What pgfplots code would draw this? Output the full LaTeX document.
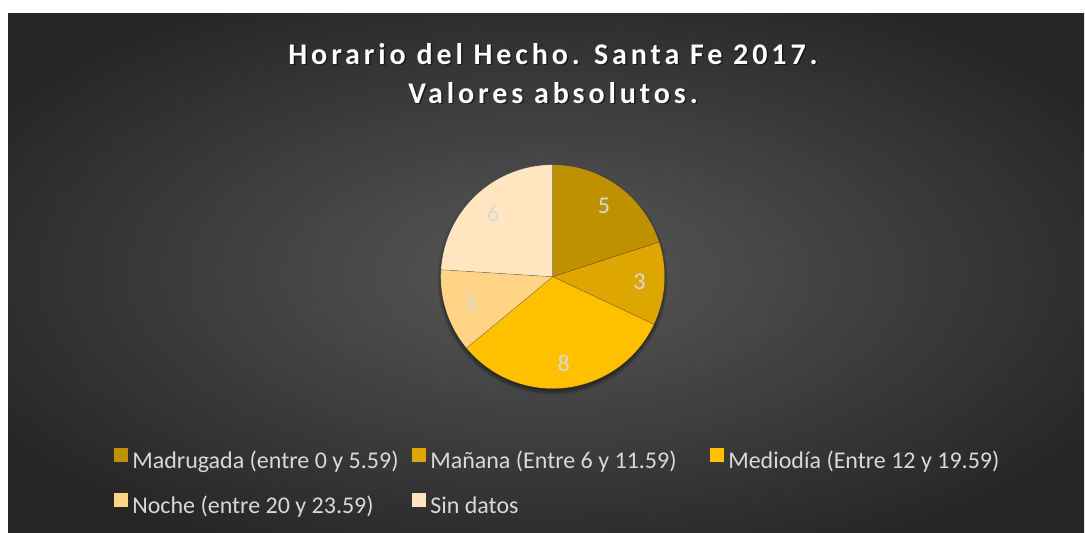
\documentclass[border=0pt]{standalone}
\usepackage{fontspec}
\setmainfont{Carlito}
\newfontfamily\titlefont[LetterSpace=13]{Carlito}
\usepackage{pgfplots}
\usepackage{pgfplotstable}
\pgfplotsset{compat=1.18}
\definecolor{cA}{HTML}{BF9000}
\definecolor{cB}{HTML}{DEA600}
\definecolor{cC}{HTML}{FFC000}
\definecolor{cD}{HTML}{FFD486}
\definecolor{cE}{HTML}{FFE5C0}
\definecolor{lbl}{HTML}{D9D9D9}
\definecolor{bgin}{HTML}{585858}
\definecolor{bgout}{HTML}{262626}
\pgfdeclareradialshading{bgshade}{\pgfpoint{0bp}{0bp}}{color(0bp)=(bgin); color(30bp)=(bgout); color(50bp)=(bgout)}

\pgfplotstableread{
value
5
3
8
3
6
}\piedata

\begin{document}
\begin{tikzpicture}[x=0.75pt,y=0.75pt]
\pgfplotstablegetelem{0}{value}\of\piedata \let\vA\pgfplotsretval
\pgfplotstablegetelem{1}{value}\of\piedata \let\vB\pgfplotsretval
\pgfplotstablegetelem{2}{value}\of\piedata \let\vC\pgfplotsretval
\pgfplotstablegetelem{3}{value}\of\piedata \let\vD\pgfplotsretval
\pgfplotstablegetelem{4}{value}\of\piedata \let\vE\pgfplotsretval
\pgfmathsetmacro\tot{\vA+\vB+\vC+\vD+\vE}
\pgfmathsetmacro\aA{90}
\pgfmathsetmacro\aB{\aA-360*\vA/\tot}
\pgfmathsetmacro\aC{\aB-360*\vB/\tot}
\pgfmathsetmacro\aD{\aC-360*\vC/\tot}
\pgfmathsetmacro\aE{\aD-360*\vD/\tot}
\pgfmathsetmacro\aF{\aE-360*\vE/\tot}
\def\cx{552.7}\def\cy{255.3}\def\R{112}\def\L{87}
\pgfmathsetmacro\xA{\cx+\L*cos((\aA+\aB)/2)}\pgfmathsetmacro\yA{\cy+\L*sin((\aA+\aB)/2)}
\pgfmathsetmacro\xB{\cx+\L*cos((\aB+\aC)/2)}\pgfmathsetmacro\yB{\cy+\L*sin((\aB+\aC)/2)}
\pgfmathsetmacro\xC{\cx+\L*cos((\aC+\aD)/2)}\pgfmathsetmacro\yC{\cy+\L*sin((\aC+\aD)/2)}
\pgfmathsetmacro\xD{\cx+\L*cos((\aD+\aE)/2)}\pgfmathsetmacro\yD{\cy+\L*sin((\aD+\aE)/2)}
\pgfmathsetmacro\xE{\cx+\L*cos((\aE+\aF)/2)}\pgfmathsetmacro\yE{\cy+\L*sin((\aE+\aF)/2)}
% background
\fill[white] (0,0) rectangle (1085,532);
\shade[shading=bgshade] (8,0) rectangle (1084,518);
% title
\begin{scope}[every node/.style={font=\titlefont\bfseries\fontsize{22.5pt}{27pt}\selectfont, anchor=base}]
\node[text=black, opacity=0.5] at (554.5,466) {Horario del Hecho. Santa Fe 2017.};
\node[text=white] at (553,467.5) {Horario del Hecho. Santa Fe 2017.};
\node[text=black, opacity=0.5] at (554.5,427) {Valores absolutos.};
\node[text=white] at (553,428.5) {Valores absolutos.};
\end{scope}
\begin{axis}[at={(0,0)}, anchor=south west, scale only axis,
  width=813.75pt, height=399pt,
  xmin=0, xmax=1085, ymin=0, ymax=532,
  hide axis, clip=false,
  legend columns=3,
  legend style={at={(0.10507,0.15915)}, anchor=north west, draw=none, fill=none,
    inner sep=0pt,
    text=lbl, font=\fontsize{18pt}{21pt}\selectfont,
    nodes={inner sep=0pt, text height=15.5pt, text depth=5pt}, row sep=13pt,
    /tikz/every odd column/.append style={column sep=3pt},
    /tikz/every even column/.append style={column sep=0pt}},
  legend cell align=left,
  legend image code/.code={\fill[#1, draw=none] (0pt,0pt) rectangle (10.5pt,10.5pt);},
  every axis plot/.append style={draw=black, draw opacity=0.25, line width=0.4pt, samples=80, variable=\t},
]
% shadow
\fill[black, opacity=0.12] (axis cs:\cx,\cy-3) circle[radius=115];
\fill[black, opacity=0.15] (axis cs:\cx,\cy-3) circle[radius=113.5];
\fill[black, opacity=0.2] (axis cs:\cx,\cy-2.5) circle[radius=112];
\addplot[fill=cA, domain=\aB:\aA] ({\cx+\R*cos(\t)},{\cy+\R*sin(\t)}) -- (axis cs:\cx,\cy) -- cycle;
\addlegendentry{\makebox[210pt][l]{Madrugada (entre 0 y 5.59)}}
\addplot[fill=cB, domain=\aC:\aB] ({\cx+\R*cos(\t)},{\cy+\R*sin(\t)}) -- (axis cs:\cx,\cy) -- cycle;
\addlegendentry{\makebox[210pt][l]{Mañana (Entre 6 y 11.59)}}
\addplot[fill=cC, domain=\aD:\aC] ({\cx+\R*cos(\t)},{\cy+\R*sin(\t)}) -- (axis cs:\cx,\cy) -- cycle;
\addlegendentry{\makebox[210pt][l]{Mediodía (Entre 12 y 19.59)}}
\addplot[fill=cD, domain=\aE:\aD] ({\cx+\R*cos(\t)},{\cy+\R*sin(\t)}) -- (axis cs:\cx,\cy) -- cycle;
\addlegendentry{\makebox[210pt][l]{Noche (entre 20 y 23.59)}}
\addplot[fill=cE, domain=\aF:\aE] ({\cx+\R*cos(\t)},{\cy+\R*sin(\t)}) -- (axis cs:\cx,\cy) -- cycle;
\addlegendentry{\makebox[210pt][l]{Sin datos}}
% value labels
\begin{scope}[every node/.style={text=lbl, font=\fontsize{18pt}{21pt}\selectfont, inner sep=0pt}]
\node at (axis cs:\xA,\yA) {\vA};
\node at (axis cs:\xB,\yB) {\vB};
\node at (axis cs:\xC,\yC) {\vC};
\node at (axis cs:\xD,\yD) {\vD};
\node at (axis cs:\xE,\yE) {\vE};
\end{scope}
\end{axis}
\end{tikzpicture}
\end{document}
